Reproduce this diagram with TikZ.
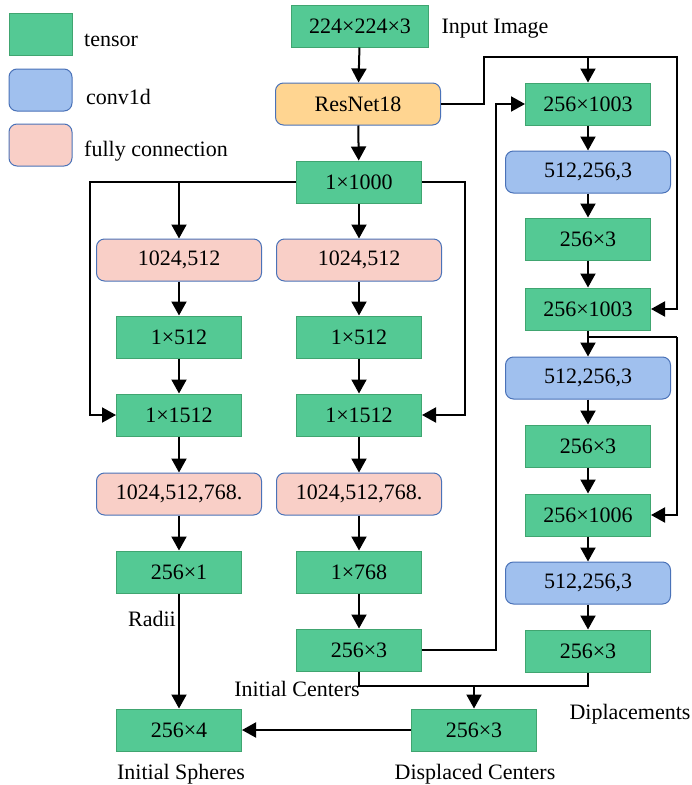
\documentclass[tikz,border=0pt]{standalone}
\usepackage{fontspec}
\setmainfont{Liberation Serif}
\usetikzlibrary{arrows.meta}

\definecolor{tgreen}{RGB}{84,201,148}
\definecolor{tgreenline}{RGB}{64,165,112}
\definecolor{cblue}{RGB}{160,192,238}
\definecolor{cblueline}{RGB}{74,114,184}
\definecolor{fpink}{RGB}{249,207,199}
\definecolor{rorange}{RGB}{255,213,145}

\tikzset{
  tensor/.style={draw=tgreenline,fill=tgreen,line width=1pt,minimum width=125pt,minimum height=42pt,inner sep=0pt},
  conv/.style={draw=cblueline,fill=cblue,line width=1pt,rounded corners=8pt,minimum width=165pt,minimum height=42pt,inner sep=0pt},
  fc/.style={draw=cblueline,fill=fpink,line width=1pt,rounded corners=8pt,minimum width=165pt,minimum height=42pt,inner sep=0pt},
  backbone/.style={draw=cblueline,fill=rorange,line width=1pt,rounded corners=8pt,minimum width=165pt,minimum height=42pt,inner sep=0pt},
  lab/.style={inner sep=0pt},
  link/.style={line width=2pt},
  arr/.style={line width=2pt,-{Triangle[length=14pt,width=15pt]}}
}

\begin{document}
\begin{tikzpicture}[x=1pt,y=-1pt,font=\fontsize{22}{26}\selectfont]
  \useasboundingbox (0,0) rectangle (692,785);

  % legend
  \node[tensor,minimum width=63pt] (legT) at (40.5,34) {};
  \node[conv,minimum width=63pt] (legC) at (40.5,90) {};
  \node[fc,minimum width=63pt] (legF) at (40.5,145) {};
  \node[lab,anchor=west] (legTtxt) at (84,40) {tensor};
  \node[lab,anchor=west] (legCtxt) at (86,97) {conv1d};
  \node[lab,anchor=west] (legFtxt) at (84,151) {fully connection};

  % backbone
  \node[tensor,minimum width=137pt] (inimg) at (360,26) {224×224×3};
  \node[lab] (inimgtxt) at (495,29) {Input Image};
  \node[backbone] (resnet) at (358,104) {ResNet18};
  \node[tensor] (gf) at (359,182) {1×1000};

  % radius branch
  \node[fc] (fcA1) at (179,260) {1024,512};
  \node[tensor] (tA1) at (179,337) {1×512};
  \node[tensor] (catA) at (179,415) {1×1512};
  \node[fc] (fcA2) at (179,494) {1024,512,768.};
  \node[tensor] (radii) at (179,572) {256×1};
  \node[lab] (radiitxt) at (152,619) {Radii};
  \node[tensor] (sph) at (179,730) {256×4};
  \node[lab] (sphtxt) at (181,774) {Initial Spheres};

  % center branch
  \node[fc] (fcB1) at (359,260) {1024,512};
  \node[tensor] (tB1) at (359,337) {1×512};
  \node[tensor] (catB) at (359,415) {1×1512};
  \node[fc] (fcB2) at (359,494) {1024,512,768.};
  \node[tensor] (tB2) at (359,572) {1×768};
  \node[tensor] (cinit) at (359,650) {256×3};
  \node[lab] (cinittxt) at (297,689) {Initial Centers};

  % displacement branch
  \node[tensor] (r1) at (588,104) {256×1003};
  \node[conv] (r2) at (588,172) {512,256,3};
  \node[tensor] (r3) at (588,239) {256×3};
  \node[tensor] (r4) at (588,309) {256×1003};
  \node[conv] (r5) at (588,378) {512,256,3};
  \node[tensor] (r6) at (588,446) {256×3};
  \node[tensor] (r7) at (588,515) {256×1006};
  \node[conv] (r8) at (588,583) {512,256,3};
  \node[tensor] (r9) at (588,651) {256×3};
  \node[lab] (r9txt) at (630,714) {Diplacements};

  \node[tensor] (disp) at (474,730) {256×3};
  \node[lab] (disptxt) at (475,774) {Displaced Centers};

  % junctions
  \coordinate (jr) at (484,57);
  \coordinate (jR) at (677,57);
  \coordinate (jl) at (90,182);
  \coordinate (jm) at (465,182);
  \coordinate (jc) at (496,650);
  \coordinate (jd) at (588,337);
  \coordinate (jD) at (677,337);
  \coordinate (jb) at (474,686);

  \draw[arr] (inimg) -- (resnet);
  \draw[arr] (resnet) -- (gf);
  \draw[arr] (resnet.east) -| (jr) -- (jR) |- (r4.east);
  \draw[arr] (r1 |- jr) -- (r1);

  \draw[arr] (gf.west) -- (jl) |- (catA.west);
  \draw[arr] (fcA1 |- gf) -- (fcA1);
  \draw[arr] (gf) -- (fcB1);
  \draw[arr] (gf.east) -- (jm) |- (catB.east);

  \draw[arr] (fcA1) -- (tA1);
  \draw[arr] (tA1) -- (catA);
  \draw[arr] (catA) -- (fcA2);
  \draw[arr] (fcA2) -- (radii);
  \draw[arr] (radii) -- (sph);

  \draw[arr] (fcB1) -- (tB1);
  \draw[arr] (tB1) -- (catB);
  \draw[arr] (catB) -- (fcB2);
  \draw[arr] (fcB2) -- (tB2);
  \draw[arr] (tB2) -- (cinit);
  \draw[arr] (cinit.east) -- (jc) |- (r1.west);

  \draw[arr] (r1) -- (r2);
  \draw[arr] (r2) -- (r3);
  \draw[arr] (r3) -- (r4);
  \draw[arr] (r4) -- (r5);
  \draw[link] (jd) -- (jD);
  \draw[arr] (jD) |- (r7.east);
  \draw[arr] (r5) -- (r6);
  \draw[arr] (r6) -- (r7);
  \draw[arr] (r7) -- (r8);
  \draw[arr] (r8) -- (r9);

  \draw[link] (cinit.south) |- (r9.south |- jb) -- (r9.south);
  \draw[arr] (jb) -- (disp);
  \draw[arr] (disp) -- (sph);
\end{tikzpicture}
\end{document}
